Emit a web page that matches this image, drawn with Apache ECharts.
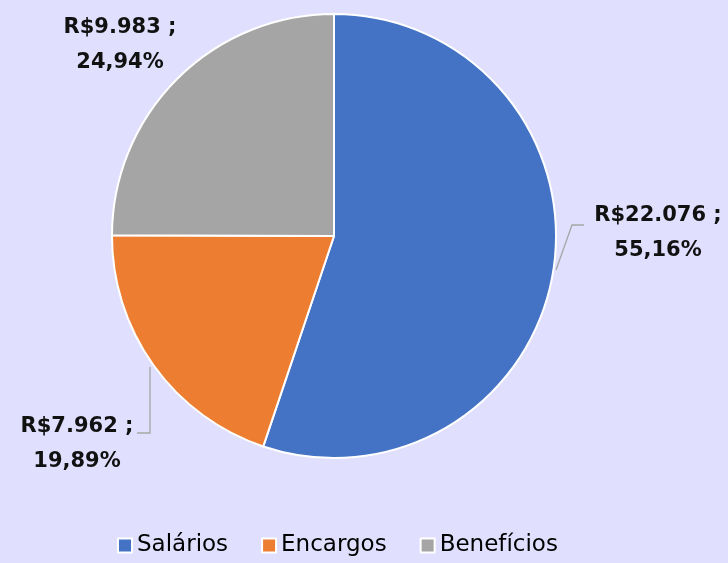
<!DOCTYPE html>
<html>
<head>
<meta charset="utf-8">
<script src="https://cdn.jsdelivr.net/npm/echarts@6/dist/echarts.min.js"></script>
<style>
html,body{margin:0;padding:0;background:#E0E0FE;}
#chart{width:728px;height:563px;}
</style>
</head>
<body>
<div id="chart"></div>
<script>
const categories = ['Salários', 'Encargos', 'Benefícios'];
const values = [22076, 7962, 9983];
const colors = ['#4472C4', '#ED7D31', '#A5A5A5'];

const total = values.reduce((a, b) => a + b, 0);
function fmtMoney(v) {
  return 'R$' + String(v).replace(/\B(?=(\d{3})+(?!\d))/g, '.');
}
function fmtPct(v) {
  return (v / total * 100).toFixed(2).replace('.', ',') + '%';
}

const labelPos = [
  { x: 658, y: 233, line: [[556, 270], [572, 225], [584, 225]] },
  { x: 77, y: 444, line: [[150, 367], [150, 433], [137, 433]] },
  { x: 120, y: 45, line: null }
];

const chart = echarts.init(document.getElementById('chart'));
chart.setOption({
  backgroundColor: '#E0E0FE',
  animation: false,
  color: colors,
  legend: {
    bottom: 1,
    left: 112,
    itemWidth: 14,
    itemHeight: 14,
    itemGap: 33,
    icon: 'rect',
    textStyle: { fontSize: 23, color: '#000', fontFamily: 'DejaVu Sans' },
    data: categories
  },
  series: [{
    type: 'pie',
    center: [334, 236],
    radius: [0, 222],
    startAngle: 90,
    clockwise: true,
    itemStyle: { borderColor: '#fff', borderWidth: 2 },
    label: {
      show: true,
      position: 'outside',
      overflow: 'none',
      formatter: p => '{t|' + fmtMoney(p.value) + ' ;}\n{t|' + fmtPct(p.value) + '}',
      rich: {
        t: {
          fontSize: 21,
          fontWeight: 'bold',
          fontFamily: 'DejaVu Sans',
          color: '#111',
          lineHeight: 35,
          align: 'center'
        }
      },
      align: 'center'
    },
    labelLine: { show: true, lineStyle: { color: '#A6A6A6', width: 1.3 } },
    labelLayout: function (params) {
      const lp = labelPos[params.dataIndex];
      const r = { x: lp.x, y: lp.y, align: 'center', verticalAlign: 'middle' };
      if (lp.line) r.labelLinePoints = lp.line;
      return r;
    },
    data: categories.map((c, i) => ({
      name: c,
      value: values[i],
      labelLine: { show: !!labelPos[i].line }
    }))
  }]
});
</script>
</body>
</html>
